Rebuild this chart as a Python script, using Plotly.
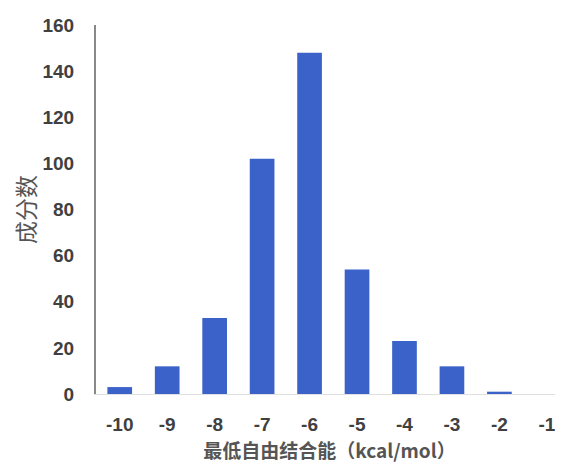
import plotly.graph_objects as go

categories = [-10, -9, -8, -7, -6, -5, -4, -3, -2, -1]
counts = [3, 12, 33, 102, 148, 54, 23, 12, 1, 0]
tick_labels = ["-10", "-9", "-8", "-7", "-6", "-5", "-4", "-3", "-2", "-1"]
y_ticks = [0, 20, 40, 60, 80, 100, 120, 140, 160]

fig = go.Figure()
fig.add_trace(go.Bar(
    x=categories, y=counts, width=0.52,
    marker=dict(color="#3a62c8", line=dict(width=0)),
))

tick_font = dict(family="Liberation Sans, Arial, sans-serif", size=19, color="#404040", weight="bold")
cjk = "Noto Sans CJK SC, sans-serif"

fig.update_layout(
    width=555, height=457,
    margin=dict(l=88, r=0, t=17, b=71),
    paper_bgcolor="white", plot_bgcolor="white",
    showlegend=False,
    xaxis=dict(
        range=[-10.5, -0.66],
        tickmode="array", tickvals=categories, ticktext=tick_labels,
        tickfont=tick_font, automargin=False,
        showgrid=False, zeroline=False,
        showline=True, linecolor="#e0e0e0", linewidth=1,
        ticks="", ticklabelstandoff=13,
        title=dict(text="最低自由结合能（kcal/mol）",
                   font=dict(family=cjk, size=19, color="#555555", weight="bold"),
                   standoff=10),
    ),
    yaxis=dict(
        range=[0, 160],
        tickmode="array", tickvals=y_ticks,
        tickfont=tick_font, automargin=False,
        showgrid=False, zeroline=False,
        showline=True, linecolor="#888888", linewidth=2,
        ticks="", ticklabelstandoff=16,
        title=dict(text="成分数", font=dict(family=cjk, size=23, color="#555555"),
                   standoff=6),
    ),
)

fig.write_html("out.html")
